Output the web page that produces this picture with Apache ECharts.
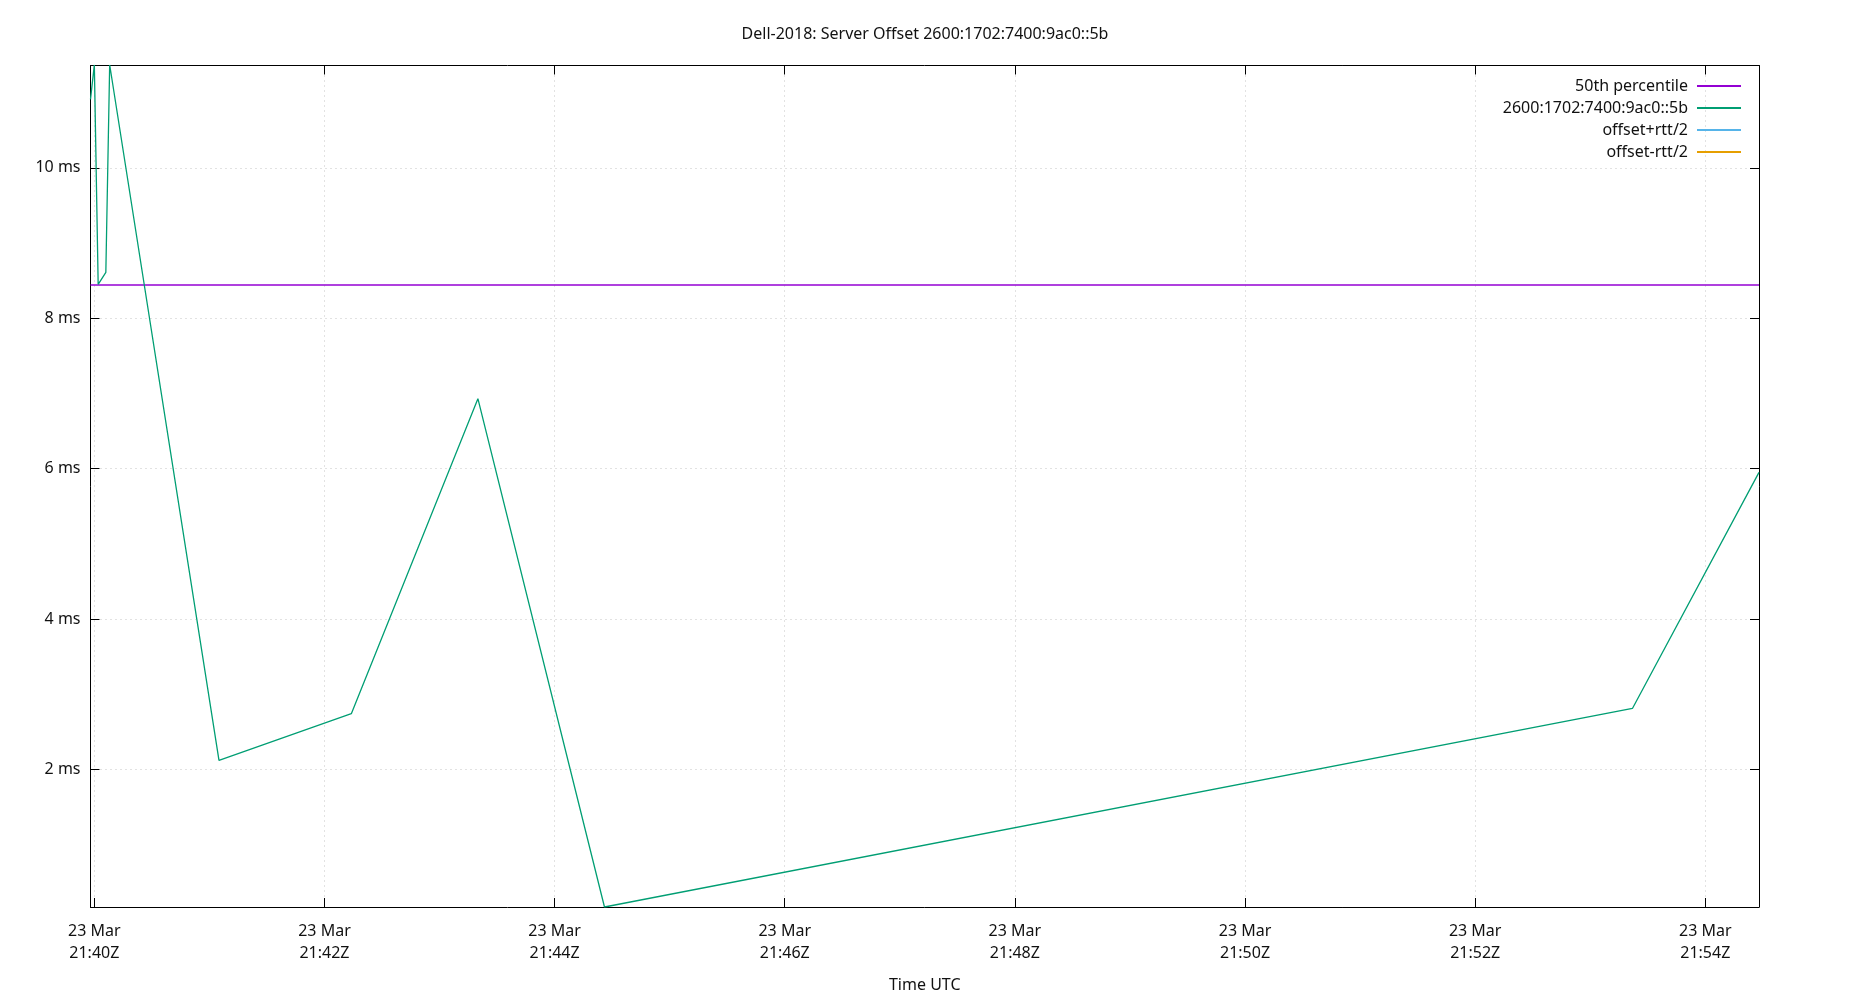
<!DOCTYPE html>
<html><head><meta charset="utf-8">
<script src="https://cdn.jsdelivr.net/npm/echarts@6/dist/echarts.min.js"></script>
<style>html,body{margin:0;padding:0;background:#fff}#c{width:1850px;height:1000px}</style>
</head><body><div id="c"></div>
<script>
const TITLE = "Dell-2018: Server Offset 2600:1702:7400:9ac0::5b";
const DAY = "2024-03-23";
const DAY_LABEL = "23 Mar";
const TIMES = ["21:39:58","21:40:00","21:40:02","21:40:06","21:40:08","21:41:05","21:42:14","21:43:20","21:44:26","21:53:22","21:54:28"];
const OFFSETS = [10.91, 11.37, 8.45, 8.61, 11.37, 2.12, 2.74, 6.93, 0.17, 2.81, 5.95];
const MEDIAN = 8.44;
const X_TICKS = ["21:40","21:42","21:44","21:46","21:48","21:50","21:52","21:54"];
const Y_TICKS = [2, 4, 6, 8, 10];
const Y_RANGE = [0.17, 11.36];
const SERIES_NAMES = ["50th percentile", "2600:1702:7400:9ac0::5b", "offset+rtt/2", "offset-rtt/2"];
const SERIES_COLORS = ["#9400d3", "#009e73", "#56b4e9", "#e69f00"];

function toMs(t) {
  const p = t.split(":").map(Number);
  const d = DAY.split("-").map(Number);
  return Date.UTC(d[0], d[1] - 1, d[2], p[0], p[1], p[2] || 0);
}
const xs = TIMES.map(toMs);
const xMin = xs[0], xMax = xs[xs.length - 1];
const xTickVals = X_TICKS.map(toMs);
const pad2 = n => (n < 10 ? "0" : "") + n;
const FONT = "Noto Sans";
const TXT = "#111";

const chart = echarts.init(document.getElementById("c"), null, {renderer: "canvas"});
const gridLine = {show: true, lineStyle: {color: "#c4c4c4", width: 1, type: [1, 4]}};
const axisLine = {show: true, onZero: false, lineStyle: {color: "#000", width: 1}};
chart.setOption({
  animation: false,
  backgroundColor: "#fff",
  title: {text: TITLE, left: "center", top: 21,
    textStyle: {fontFamily: FONT, fontSize: 16, fontWeight: "normal", color: TXT}},
  grid: {left: 90.5, right: 91, top: 65.5, bottom: 93, containLabel: false, outerBoundsMode: "none"},
  legend: {
    orient: "vertical", right: 104, top: 72, align: "right",
    itemWidth: 44, itemHeight: 2, itemGap: 4, icon: "rect",
    selectedMode: false,
    textStyle: {fontFamily: FONT, fontSize: 16, color: TXT, lineHeight: 18, padding: [0, 4, 0, 0]},
    data: SERIES_NAMES
  },
  xAxis: [{
    type: "value", min: xMin, max: xMax, position: "bottom",
    name: "Time UTC", nameLocation: "middle", nameGap: 70,
    nameTextStyle: {fontFamily: FONT, fontSize: 16, color: TXT},
    axisLine: axisLine,
    axisTick: {show: true, inside: true, length: 9, customValues: xTickVals, lineStyle: {color: "#000"}},
    axisLabel: {customValues: xTickVals, margin: 13, fontFamily: FONT, fontSize: 16, color: TXT, lineHeight: 22,
      formatter: v => { const d = new Date(v); return DAY_LABEL + "\n" + pad2(d.getUTCHours()) + ":" + pad2(d.getUTCMinutes()) + "Z"; }},
    splitLine: gridLine
  }, {
    type: "value", min: xMin, max: xMax, position: "top",
    axisLine: axisLine,
    axisTick: {show: true, inside: true, length: 9, customValues: xTickVals, lineStyle: {color: "#000"}},
    axisLabel: {show: false, customValues: xTickVals},
    splitLine: {show: false}
  }],
  yAxis: [{
    type: "value", min: Y_RANGE[0], max: Y_RANGE[1], position: "left",
    axisLine: axisLine,
    axisTick: {show: true, inside: true, length: 9, customValues: Y_TICKS, lineStyle: {color: "#000"}},
    axisLabel: {customValues: Y_TICKS, margin: 10, fontFamily: FONT, fontSize: 16, color: TXT,
      formatter: v => v + " ms"},
    splitLine: gridLine
  }, {
    type: "value", min: Y_RANGE[0], max: Y_RANGE[1], position: "right",
    axisLine: axisLine,
    axisTick: {show: true, inside: true, length: 9, customValues: Y_TICKS, lineStyle: {color: "#000"}},
    axisLabel: {show: false, customValues: Y_TICKS},
    splitLine: {show: false}
  }],
  series: [
    {name: SERIES_NAMES[0], type: "line", xAxisIndex: 0, yAxisIndex: 0, color: SERIES_COLORS[0],
      data: [[xMin, MEDIAN], [xMax, MEDIAN]], symbol: "none", lineStyle: {width: 1.5, color: SERIES_COLORS[0]}, z: 3},
    {name: SERIES_NAMES[1], type: "line", xAxisIndex: 0, yAxisIndex: 0, color: SERIES_COLORS[1],
      data: xs.map((x, i) => [x, OFFSETS[i]]), symbol: "none", lineStyle: {width: 1.3, color: SERIES_COLORS[1]}, z: 4},
    {name: SERIES_NAMES[2], type: "line", color: SERIES_COLORS[2], data: [], symbol: "none", lineStyle: {width: 1.3}},
    {name: SERIES_NAMES[3], type: "line", color: SERIES_COLORS[3], data: [], symbol: "none", lineStyle: {width: 1.3}}
  ]
});
</script>
</body></html>
